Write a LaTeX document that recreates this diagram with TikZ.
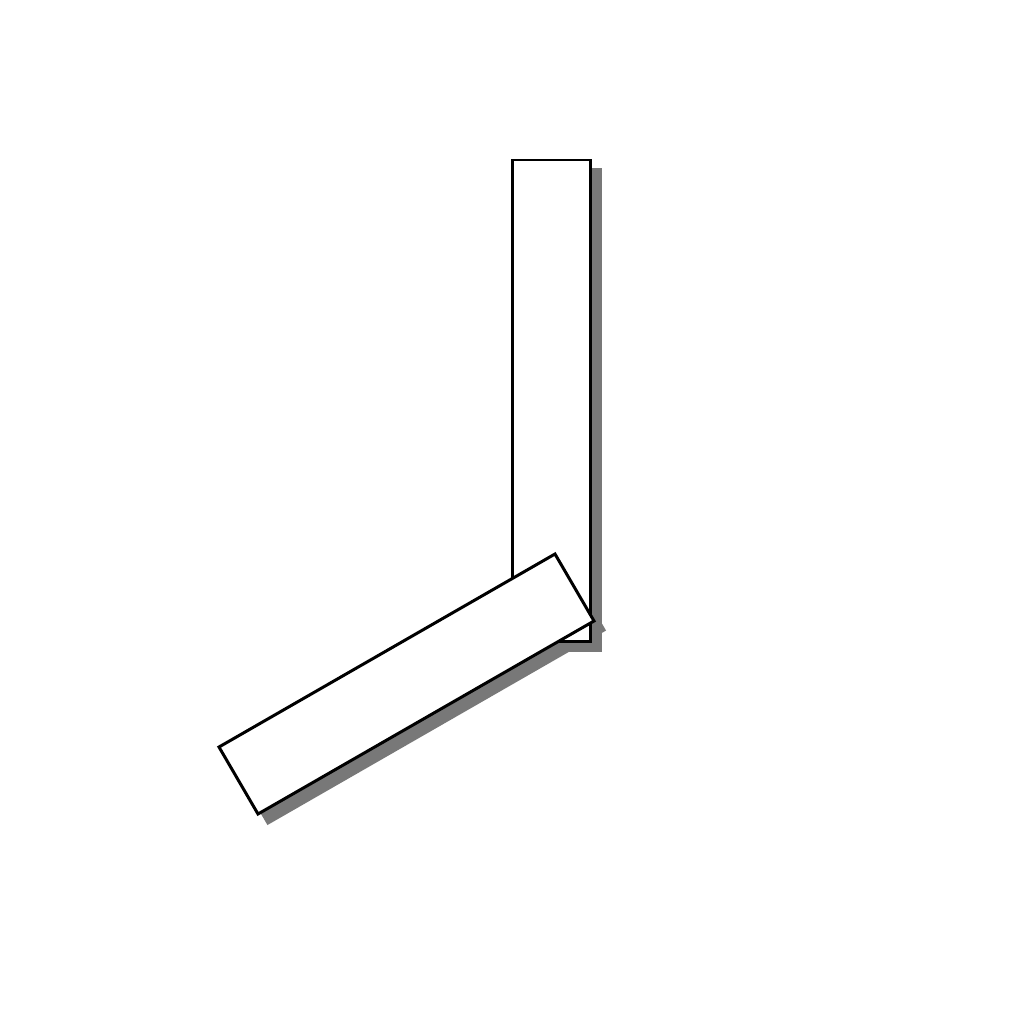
\documentclass[tikz,border=0pt]{standalone}
\begin{document}
\begin{tikzpicture}[x=0.01cm,y=-0.01cm,
  bar/.style={draw=black,fill=white,line width=0.85pt,line join=miter},
  barshadow/.style={draw=black!53,fill=black!53,line width=0.85pt,shift={(10,9)}}]
  \useasboundingbox (0,0) rectangle (1024,1024);
  \fill[white] (0,0) rectangle (1024,1024);
  \path[barshadow] (512,160) rectangle (590,641);
  \path[barshadow] (219,747) -- (555,554) -- (594,621) -- (258,814) -- cycle;
  \path[bar] (512,160) rectangle (590,641);
  \path[bar] (219,747) -- (555,554) -- (594,621) -- (258,814) -- cycle;
\end{tikzpicture}
\end{document}
